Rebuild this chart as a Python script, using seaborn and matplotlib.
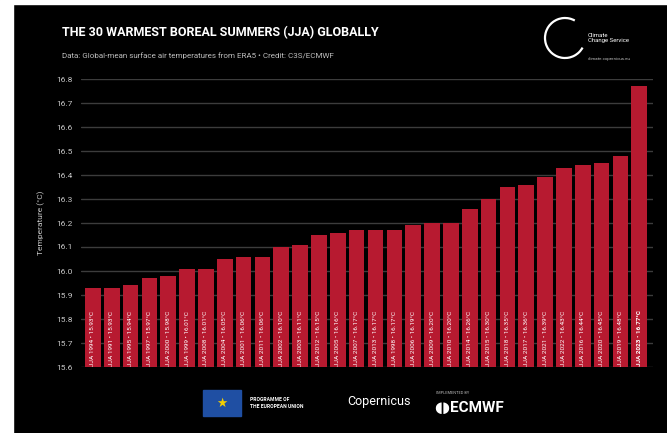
import pandas as pd
import matplotlib.pyplot as plt
import seaborn as sns
from matplotlib.patches import Rectangle, Arc

# ---------------------------------------
# Data
# ---------------------------------------
years = [1994, 1991, 1995, 1997, 2000, 1999, 2008, 2004, 2001, 2011,
         2002, 2003, 2012, 2005, 2007, 2013, 1998, 2006, 2009, 2010,
         2014, 2015, 2018, 2017, 2021, 2022, 2016, 2020, 2019, 2023]
temps = [15.93, 15.93, 15.94, 15.97, 15.98, 16.01, 16.01, 16.05, 16.06, 16.06,
         16.10, 16.11, 16.15, 16.16, 16.17, 16.17, 16.17, 16.19, 16.20, 16.20,
         16.26, 16.30, 16.35, 16.36, 16.39, 16.43, 16.44, 16.45, 16.48, 16.77]
y_ticks = [15.6, 15.7, 15.8, 15.9, 16.0, 16.1, 16.2, 16.3, 16.4, 16.5, 16.6, 16.7, 16.8]

df = pd.DataFrame({"Year": [f"JJA {y}" for y in years], "Temp": temps})

bar_color = "#b71a30"

sns.set_style("dark")
plt.rcParams['font.family'] = ['Roboto', 'DejaVu Sans']

fig = plt.figure(figsize=(6.67, 4.33), dpi=100)
fig.patch.set_facecolor("black")
# white margins around the black panel
fig.add_artist(Rectangle((0, 0), 13 / 667, 1, transform=fig.transFigure, color="white", zorder=0))
fig.add_artist(Rectangle((0, 1 - 4 / 433), 1, 4 / 433, transform=fig.transFigure, color="white", zorder=0))

ax = fig.add_axes([81 / 667, 66 / 433, 572 / 667, 288 / 433])
ax.set_facecolor("black")

sns.barplot(data=df, x="Year", y="Temp", color=bar_color, width=0.83,
            saturation=1, ax=ax, zorder=3, edgecolor=bar_color, linewidth=0)

ax.set_ylim(15.6, 16.8)
ax.set_xlim(-0.63, len(years) - 1 + 0.73)
ax.set_yticks(y_ticks)
ax.set_yticklabels([f"{t:.1f}" for t in y_ticks], color="#c8c8c8", fontsize=6)
ax.tick_params(axis="y", length=0, pad=6)
ax.set_xticks([])
ax.set_xlabel("")
ax.set_ylabel("Temperature (°C)", color="#c8c8c8", fontsize=6, labelpad=8)
ax.grid(axis="y", color="#3c3c3c", linewidth=1.0, zorder=0)
ax.grid(axis="x", visible=False)
for s in ax.spines.values():
    s.set_visible(False)

# labels inside the bars
for i, (yr, t) in enumerate(zip(years, temps)):
    last = i == len(years) - 1
    ax.text(i, 15.605, f"JJA {yr} \u2022 {t:.2f}°C", rotation=90, ha="center", va="bottom",
            color="white", fontsize=4.6, fontweight="bold" if last else "normal", zorder=4)

# ---------------------------------------
# Title and credits
# ---------------------------------------
fig.text(62 / 667, 1 - 33 / 433, "THE 30 WARMEST BOREAL SUMMERS (JJA) GLOBALLY",
         color="white", fontsize=9, fontweight="bold", va="center", ha="left")
fig.text(62 / 667, 1 - 56 / 433,
         "Data: Global-mean surface air temperatures from ERA5 \u2022 Credit: C3S/ECMWF",
         color="#bdbdbd", fontsize=5.8, va="center", ha="left")

# Climate Change Service logo (top right)
fig.add_artist(Arc((565 / 667, 1 - 38 / 433), 40 / 667, 40 / 433, theta1=70, theta2=320,
                   transform=fig.transFigure, color="white", linewidth=1.6))
fig.text(588 / 667, 1 - 38 / 433, "Climate\nChange Service", color="white",
         fontsize=4.3, va="center", ha="left", linespacing=1.1)
fig.text(588 / 667, 1 - 59 / 433, "climate.copernicus.eu", color="#bdbdbd",
         fontsize=3.2, va="center", ha="left")

# bottom logos
fig.add_artist(Rectangle((203 / 667, 1 - 416 / 433), 38 / 667, 26 / 433,
                         transform=fig.transFigure, color="#1f4fa3"))
fig.text(222 / 667, 1 - 403 / 433, "\u2605", color="#f5d000", fontsize=9, ha="center", va="center")
fig.text(250 / 667, 1 - 403 / 433, "PROGRAMME OF\nTHE EUROPEAN UNION", color="white",
         fontsize=3.6, fontweight="bold", va="center", ha="left", linespacing=1.3)
fig.text(347 / 667, 1 - 402 / 433, "Copernicus", color="white", fontsize=9,
         va="center", ha="left")
fig.text(436 / 667, 1 - 393 / 433, "IMPLEMENTED BY", color="#bdbdbd", fontsize=2.8,
         va="center", ha="left")
fig.text(434 / 667, 1 - 408 / 433, "\u25d6\u25d7ECMWF", color="white", fontsize=11,
         fontweight="bold", va="center", ha="left")

fig.savefig("out.png", dpi=100, facecolor=fig.get_facecolor())
